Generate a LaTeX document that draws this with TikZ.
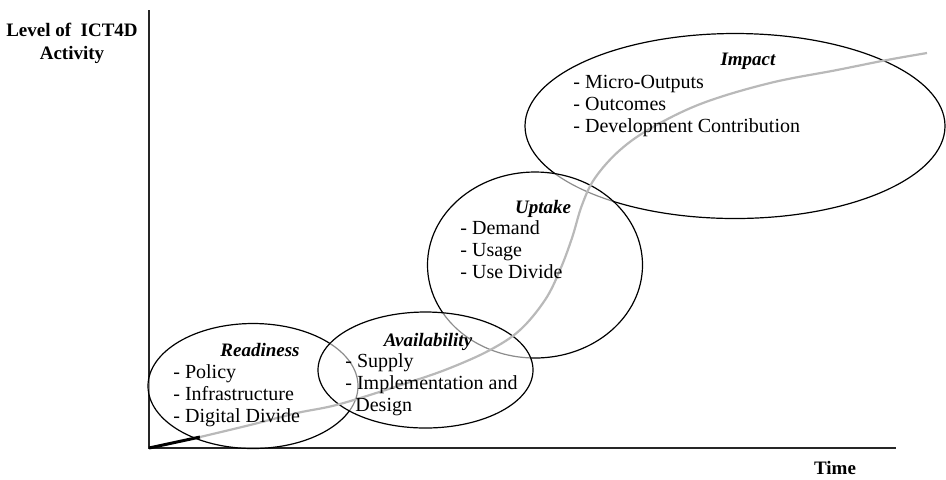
\documentclass[tikz,border=0pt]{standalone}
\usepackage{fontspec}
\setmainfont{Liberation Serif}
\usetikzlibrary{shapes.geometric}
\tikzstyle{phase} = [ellipse, draw=black, line width=0.6pt, fill=white, fill opacity=0.55, inner sep=0pt]
\tikzstyle{heading} = [anchor=base, inner sep=0pt, font=\fontsize{9.5}{11}\selectfont\bfseries\itshape]
\tikzstyle{items} = [anchor=base west, align=left, inner sep=0pt, font=\fontsize{10}{11}\selectfont]
\tikzstyle{axislabel} = [align=center, inner sep=0pt, font=\fontsize{9.5}{11.5}\selectfont\bfseries]
\tikzstyle{axis} = [line width=0.8pt, black!85]
\tikzstyle{curve} = [gray!55, line width=1.1pt]

\begin{document}
\begin{tikzpicture}[x=0.5pt, y=-0.5pt]
	\useasboundingbox (0,0) rectangle (946,479);
	\coordinate (origin) at (149,448);
	\draw [axis] (149,10) -- (origin) -- (896,448);
	\node (ylabel) [axislabel] at (72,43) {Level of~~ICT4D\\Activity};
	\node (xlabel) [axislabel] at (835,468) {Time};
	
	% phases
	\node (impact) [phase, minimum width=210pt, minimum height=92.5pt] at (735,126) {};
	\node (uptake) [phase, minimum width=107.5pt, minimum height=93pt] at (535,265) {};
	\node (readiness) [phase, minimum width=105pt, minimum height=62.5pt] at (253,386) {};
	\node (availability) [phase, minimum width=107.5pt, minimum height=58pt] at (425.5,370) {};
	
	% growth curve
	\coordinate (bend) at (200,437);
	\draw [line width=1.5pt] (origin) -- (bend);
	\draw [curve] plot [smooth, tension=0.6] coordinates {(bend) (250,425) (297,413) (340,404) (410,382) (450,368) (490,350) (520,330) (545,300) (560,270) (572,238) (582,205) (595,178) (620,150) (653,127) (703,103) (770,83) (837,70) (887,60) (927,53)};
	
	% labels (lists sit on the baseline of their last line)
	\node (readyhead) [heading] at (260,356) {Readiness};
	\node (readylist) [items] at (173,422) {- Policy\\- Infrastructure\\- Digital Divide};
	\node (availhead) [heading] at (428,346) {Availability};
	\node (availlist) [items] at (345,411) {- Supply\\- Implementation and\\\hspace*{0.5em}Design};
	\node (uptakehead) [heading] at (543,213) {Uptake};
	\node (uptakelist) [items] at (460,278) {- Demand\\- Usage\\- Use Divide};
	\node (impacthead) [heading] at (748,65) {Impact};
	\node (impactlist) [items] at (573,132) {- Micro-Outputs\\- Outcomes\\- Development Contribution};
\end{tikzpicture}
\end{document}
